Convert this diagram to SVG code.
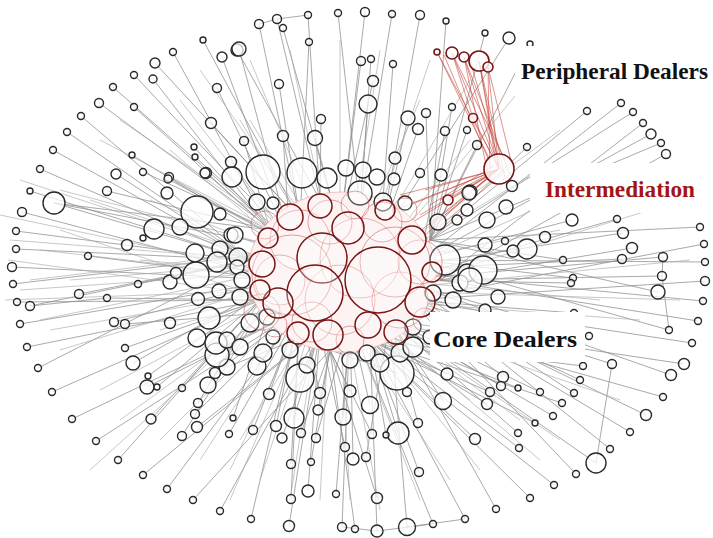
<svg xmlns="http://www.w3.org/2000/svg" width="713" height="538" viewBox="0 0 713 538">
<style>
.ln{fill:none;stroke:#8c8c8c;stroke-width:1;stroke-opacity:.75}
.ln2{fill:none;stroke:#a8a8a8;stroke-width:.9;stroke-opacity:.7}
.rl{fill:none;stroke:#c0392b;stroke-width:1;stroke-opacity:.55}
.n circle{fill:#fff;fill-opacity:.72;stroke:#2a2a2a;stroke-width:1.4}
.cd circle{fill:#fff;fill-opacity:.3;stroke:#7a1414;stroke-width:1.5}
.cl circle{fill:#fff;fill-opacity:.2;stroke:#c85050;stroke-width:1;stroke-opacity:.55}
.pr circle{fill:#fff;fill-opacity:.8;stroke:#7a1414;stroke-width:1.6}
.lbl{font-family:"Liberation Serif","Times New Roman",serif;font-weight:bold;font-size:23px}
</style>
<rect width="713" height="538" fill="#fff"/>
<g id="connectors">
<path class="ln" d="M203 40L300 220M222 57L290 240M237 50L320 200M173 52L270 230M155 63L300 220M134 75L300 250M153 79L270 230M217 88L290 240M113 87L320 270M99 103L300 250M134 107L270 230M81 116L250 260M211 123L300 220M67 132L280 280M53 150L250 260M194 147L270 230M195 157L300 250M132 155L320 270M231 162L290 240M40 169L250 260M116 174L280 280M143 172L270 230M169 177L300 250M206 173L270 230
M259 24L300 220M277 19L320 200M283 28L340 230M308 15L320 200M338 13L360 210M365 12L340 230M392 14L360 210M420 15L380 240M446 21L430 240M239 49L290 240M309 42L300 220M361 61L340 230M371 59L360 210M393 64L380 240M279 84L300 220M373 81L340 230M368 104L360 210M408 118L380 240M426 113L430 240M418 129L380 240M452 107L430 240M445 131L420 260M467 130L430 240M321 119L320 200M283 136L290 240M315 138L340 230M244 141L270 230M485 33L430 240M509 38L380 240M530 44L430 240M477 145L420 260M527 147L430 240
M587 111L430 240M621 103L420 260M633 112L430 240M643 123L440 280M651 134L420 260M661 143L430 240M666 154L440 280
M572 220L420 260M617 219L400 280M700 227L430 240M623 233L380 270M704 244L410 300M632 248L440 280M705 262L420 260M663 257L400 280M563 260L430 240M622 259L380 270M705 281L410 300M662 276L440 280M573 278L420 260M571 283L400 280M658 292L430 240M703 301L380 270M574 313L410 300M698 321L440 280M669 330L420 260M589 336L400 280M692 343L410 300
M612 364L410 300M684 364L390 320M671 375L400 280M583 366L370 340M580 380L410 300M663 397L390 320M574 393L400 280M562 403L370 340M646 415L410 300M540 392L390 320M518 388L350 320M503 377L410 300M501 386L390 320M490 392L370 340M487 404L350 320M553 416L390 320M535 423L370 340M630 432L410 300M518 433L390 320M610 449L400 280M519 448L350 320M475 439L370 340M596 463L390 320M576 474L410 300M554 485L370 340M530 498L350 320M496 509L390 320
M447 374L350 320M443 401L390 320M407 392L370 340M397 373L330 350M370 405L350 320M350 391L320 330M320 393L300 310M318 410L330 350M300 378L320 330M269 394L300 310M257 366L300 310M343 417L350 320M398 433L370 340M418 423L390 320M294 418L320 330M276 426L300 310M301 433L330 350M282 438L320 330M316 438L350 320M253 430L300 310M233 418L280 280M372 434L330 350M386 435L370 340M345 447L320 330M353 459L350 320M366 457L390 320M311 462L330 350M291 464L300 310M419 472L370 340M308 491L320 330M291 499L300 310M336 494L350 320M377 498L330 350M251 519L300 310M289 526L320 330M342 527L350 320M355 529L330 350M377 531L370 340M407 527L390 320M433 524L350 320M465 519L370 340
M38 368L250 260M133 363L280 280M52 392L260 300M147 387L300 310M148 376L280 280M157 387L260 300M72 419L300 310M182 388L260 300M208 385L280 280M215 373L300 310M227 367L320 330M198 403L260 300M195 414L300 310M197 427L320 330M182 436L280 280M151 419L260 300M96 441L300 310M118 460L260 300M143 475L320 330M167 489L300 310M193 500L330 350M220 511L320 330M229 434L300 310
M30 191L250 260M22 212L280 280M54 203L300 250M54 203L270 230M54 203L250 260M16 231L320 270M16 249L250 260M12 267L280 280M13 284L300 250M17 302L260 300M30 306L250 260M20 324L280 280M27 347L260 300M107 191L270 230M168 179L300 250M88 256L280 280M138 284L300 250M79 294L250 260M107 298L260 300M114 322L280 280M125 324L300 310M125 348L260 300
M259 24L277 19L308 15M663 257L662 276L669 330M596 463L612 364M433 524L377 531L342 527M407 527L465 519M30 306L107 298"/>
<path class="ln2" d="M0 215L260 270M20 180L280 265M40 250L300 280M60 230L270 300M5 300L290 290M70 280L310 260M90 200L300 270M100 140L330 260M180 100L320 280M250 60L330 250M340 40L340 270M430 60L360 270M520 90L380 260M600 180L400 270M650 210L390 290M690 260L380 290M640 320L370 300M620 400L360 310M540 460L350 300M450 480L340 310M380 510L340 290M320 500L330 300M260 480L320 300M200 460L310 290M120 420L300 290M60 350L290 280M20 290L310 270M150 200L320 270M240 120L330 270M420 100L350 260M560 130L370 270M680 300L360 290M560 440L340 290M230 500L320 290M90 470L300 280M40 320L280 270
M10 240L290 262M8 260L300 300M30 280L280 250M60 190L290 250M120 120L310 250M200 70L320 240M290 50L330 240M380 50L350 240M470 80L370 250M540 170L390 260M560 230L400 260M600 300L390 280M580 350L380 300M520 420L370 310M480 470L360 320M420 500L350 320M350 500L340 320M290 500L320 310M230 470L310 300M160 440L300 300M100 390L290 290M50 330L280 290M170 150L300 260M140 260L300 275M160 330L300 290M250 120L330 255M470 140L380 255M520 320L390 290M470 400L360 310M240 440L320 310"/>
<path class="rl" d="M437 52L499 169M437 52L490 160M452 53L499 169M452 53L505 160M452 53L473 118M464 57L499 169M464 57L488 175M464 57L510 175M479 61L499 169M479 61L495 156M479 61L506 182M488 67L499 169M488 67L512 165M488 67L490 180M473 118L499 169M444 55L492 168M470 60L502 172
M499 169L400 195M499 169L410 205M499 169L420 215M499 169L430 225M499 169L415 235M499 169L440 200M499 169L395 210M499 169L425 190M499 169L445 215M499 169L408 225M490 175L420 240M495 165L430 205M505 172L435 230M499 169L450 200"/>
</g>
<ellipse id="core-area" cx="342" cy="272" rx="94" ry="80" fill="#fdf1f1" stroke="#e6a0a0" stroke-width="1" stroke-opacity=".6"/>
<g id="nodes" class="n">
<circle cx="203" cy="40" r="3"/><circle cx="222" cy="57" r="5"/><circle cx="237" cy="50" r="6"/><circle cx="173" cy="52" r="3.5"/><circle cx="155" cy="63" r="5"/><circle cx="134" cy="75" r="3.5"/><circle cx="153" cy="79" r="4"/><circle cx="217" cy="88" r="4.5"/><circle cx="113" cy="87" r="3.5"/><circle cx="99" cy="103" r="4.5"/><circle cx="134" cy="107" r="3.5"/><circle cx="81" cy="116" r="3.5"/><circle cx="211" cy="123" r="5.5"/><circle cx="67" cy="132" r="3.5"/><circle cx="53" cy="150" r="3.5"/><circle cx="194" cy="147" r="3"/><circle cx="195" cy="157" r="3"/><circle cx="132" cy="155" r="3"/><circle cx="231" cy="162" r="5.5"/><circle cx="40" cy="169" r="3.5"/><circle cx="116" cy="174" r="5"/><circle cx="143" cy="172" r="3.5"/><circle cx="169" cy="177" r="4.5"/><circle cx="206" cy="173" r="5.5"/>
<circle cx="259" cy="24" r="4.5"/><circle cx="277" cy="19" r="4.5"/><circle cx="283" cy="28" r="3.5"/><circle cx="308" cy="15" r="3.5"/><circle cx="338" cy="13" r="3.5"/><circle cx="365" cy="12" r="4.5"/><circle cx="392" cy="14" r="3.5"/><circle cx="420" cy="15" r="4.5"/><circle cx="446" cy="21" r="3"/><circle cx="239" cy="49" r="7"/><circle cx="309" cy="42" r="3.5"/><circle cx="361" cy="61" r="4.5"/><circle cx="371" cy="59" r="3.5"/><circle cx="393" cy="64" r="3.5"/><circle cx="279" cy="84" r="4.5"/><circle cx="373" cy="81" r="5.5"/><circle cx="368" cy="104" r="9"/><circle cx="408" cy="118" r="7"/><circle cx="426" cy="113" r="4.5"/><circle cx="418" cy="129" r="5.5"/><circle cx="452" cy="107" r="3.5"/><circle cx="445" cy="131" r="4.5"/><circle cx="467" cy="130" r="3.5"/><circle cx="321" cy="119" r="4.5"/><circle cx="283" cy="136" r="5.5"/><circle cx="315" cy="138" r="7.5"/><circle cx="244" cy="141" r="4.5"/><circle cx="485" cy="33" r="3"/><circle cx="509" cy="38" r="6"/><circle cx="530" cy="44" r="3"/><circle cx="477" cy="145" r="4.5"/><circle cx="527" cy="147" r="3.5"/>
<circle cx="587" cy="111" r="3.5"/><circle cx="621" cy="103" r="3.5"/><circle cx="633" cy="112" r="3.5"/><circle cx="643" cy="123" r="3.5"/><circle cx="651" cy="134" r="5"/><circle cx="661" cy="143" r="3.5"/><circle cx="666" cy="154" r="4.5"/>
<circle cx="572" cy="220" r="6"/><circle cx="617" cy="219" r="3.5"/><circle cx="700" cy="227" r="3.5"/><circle cx="623" cy="233" r="5.5"/><circle cx="704" cy="244" r="3.5"/><circle cx="632" cy="248" r="5.5"/><circle cx="705" cy="262" r="3.5"/><circle cx="663" cy="257" r="4.5"/><circle cx="563" cy="260" r="3.5"/><circle cx="622" cy="259" r="4.5"/><circle cx="705" cy="281" r="4.5"/><circle cx="662" cy="276" r="4.5"/><circle cx="573" cy="278" r="3.5"/><circle cx="571" cy="283" r="3.5"/><circle cx="658" cy="292" r="7"/><circle cx="703" cy="301" r="3.5"/><circle cx="574" cy="313" r="3.5"/><circle cx="698" cy="321" r="3.5"/><circle cx="669" cy="330" r="3.5"/><circle cx="589" cy="336" r="3.5"/><circle cx="692" cy="343" r="3.5"/>
<circle cx="612" cy="364" r="4.5"/><circle cx="684" cy="364" r="5.5"/><circle cx="671" cy="375" r="5.5"/><circle cx="583" cy="366" r="3.5"/><circle cx="580" cy="380" r="3.5"/><circle cx="663" cy="397" r="3.5"/><circle cx="574" cy="393" r="3.5"/><circle cx="562" cy="403" r="3.5"/><circle cx="646" cy="415" r="5.5"/><circle cx="540" cy="392" r="3.5"/><circle cx="518" cy="388" r="3"/><circle cx="503" cy="377" r="5.5"/><circle cx="501" cy="386" r="4.5"/><circle cx="490" cy="392" r="4.5"/><circle cx="487" cy="404" r="5.5"/><circle cx="553" cy="416" r="3.5"/><circle cx="535" cy="423" r="3"/><circle cx="630" cy="432" r="3.5"/><circle cx="518" cy="433" r="3.5"/><circle cx="610" cy="449" r="3.5"/><circle cx="519" cy="448" r="3.5"/><circle cx="475" cy="439" r="5.5"/><circle cx="596" cy="463" r="10"/><circle cx="576" cy="474" r="3.5"/><circle cx="554" cy="485" r="3.5"/><circle cx="530" cy="498" r="3.5"/><circle cx="496" cy="509" r="3.5"/>
<circle cx="447" cy="374" r="6"/><circle cx="443" cy="401" r="8.5"/><circle cx="407" cy="392" r="4.5"/><circle cx="397" cy="373" r="17"/><circle cx="370" cy="405" r="8.5"/><circle cx="350" cy="391" r="6"/><circle cx="320" cy="393" r="5.5"/><circle cx="318" cy="410" r="5"/><circle cx="300" cy="378" r="14"/><circle cx="269" cy="394" r="5.5"/><circle cx="257" cy="366" r="9"/><circle cx="343" cy="417" r="8"/><circle cx="398" cy="433" r="11"/><circle cx="418" cy="423" r="4.5"/><circle cx="294" cy="418" r="10"/><circle cx="276" cy="426" r="5.5"/><circle cx="301" cy="433" r="4.5"/><circle cx="282" cy="438" r="5"/><circle cx="316" cy="438" r="4.5"/><circle cx="253" cy="430" r="4.5"/><circle cx="233" cy="418" r="3"/><circle cx="372" cy="434" r="4.5"/><circle cx="386" cy="435" r="3"/><circle cx="345" cy="447" r="4.5"/><circle cx="353" cy="459" r="6"/><circle cx="366" cy="457" r="4.5"/><circle cx="311" cy="462" r="3.5"/><circle cx="291" cy="464" r="4.5"/><circle cx="419" cy="472" r="4.5"/><circle cx="308" cy="491" r="6"/><circle cx="291" cy="499" r="4.5"/><circle cx="336" cy="494" r="3.5"/><circle cx="377" cy="498" r="5.5"/><circle cx="251" cy="519" r="3.5"/><circle cx="289" cy="526" r="5.5"/><circle cx="342" cy="527" r="4.5"/><circle cx="355" cy="529" r="3.5"/><circle cx="377" cy="531" r="6"/><circle cx="407" cy="527" r="8.5"/><circle cx="433" cy="524" r="3.5"/><circle cx="465" cy="519" r="3.5"/>
<circle cx="38" cy="368" r="3.5"/><circle cx="133" cy="363" r="7"/><circle cx="52" cy="392" r="3.5"/><circle cx="147" cy="387" r="7"/><circle cx="148" cy="376" r="3"/><circle cx="157" cy="387" r="3"/><circle cx="72" cy="419" r="3.5"/><circle cx="182" cy="388" r="3.5"/><circle cx="208" cy="385" r="8"/><circle cx="215" cy="373" r="5.5"/><circle cx="227" cy="367" r="8"/><circle cx="198" cy="403" r="4.5"/><circle cx="195" cy="414" r="4.5"/><circle cx="197" cy="427" r="5.5"/><circle cx="182" cy="436" r="4.5"/><circle cx="151" cy="419" r="5"/><circle cx="96" cy="441" r="3.5"/><circle cx="118" cy="460" r="3.5"/><circle cx="143" cy="475" r="3.5"/><circle cx="167" cy="489" r="3.5"/><circle cx="193" cy="500" r="3.5"/><circle cx="220" cy="511" r="3.5"/><circle cx="229" cy="434" r="3.5"/><circle cx="217" cy="355" r="12"/>
<circle cx="30" cy="191" r="3"/><circle cx="22" cy="212" r="4.5"/><circle cx="54" cy="203" r="11"/><circle cx="16" cy="231" r="3.5"/><circle cx="16" cy="249" r="3.5"/><circle cx="12" cy="267" r="4.5"/><circle cx="13" cy="284" r="3.5"/><circle cx="17" cy="302" r="3.5"/><circle cx="30" cy="306" r="4.5"/><circle cx="20" cy="324" r="3.5"/><circle cx="27" cy="347" r="3.5"/><circle cx="107" cy="191" r="4.5"/><circle cx="168" cy="179" r="4"/><circle cx="167" cy="193" r="6"/><circle cx="143" cy="238" r="3"/><circle cx="127" cy="245" r="5.5"/><circle cx="88" cy="256" r="3.5"/><circle cx="138" cy="284" r="3.5"/><circle cx="79" cy="294" r="4.5"/><circle cx="107" cy="298" r="3.5"/><circle cx="114" cy="322" r="4.5"/><circle cx="125" cy="324" r="4.5"/><circle cx="125" cy="348" r="3.5"/>
<circle cx="197" cy="212" r="16"/><circle cx="220" cy="214" r="6"/><circle cx="154" cy="229" r="10"/><circle cx="180" cy="227" r="8"/><circle cx="170" cy="282" r="7"/><circle cx="176" cy="273" r="5.5"/><circle cx="196" cy="275" r="13"/><circle cx="195" cy="253" r="9"/><circle cx="220" cy="249" r="8"/><circle cx="231" cy="235" r="7"/><circle cx="217" cy="262" r="10"/><circle cx="198" cy="299" r="6.5"/><circle cx="219" cy="291" r="7"/><circle cx="209" cy="318" r="11"/><circle cx="170" cy="323" r="5.5"/><circle cx="197" cy="338" r="9"/><circle cx="216" cy="343" r="11"/>
<circle cx="263" cy="172" r="17"/><circle cx="232" cy="177" r="10"/><circle cx="302" cy="173" r="15"/><circle cx="327" cy="178" r="10"/><circle cx="205" cy="173" r="5"/><circle cx="346" cy="168" r="8"/><circle cx="363" cy="170" r="8"/><circle cx="395" cy="158" r="6"/><circle cx="377" cy="177" r="8"/><circle cx="394" cy="179" r="6"/><circle cx="420" cy="173" r="4.5"/><circle cx="441" cy="175" r="6"/><circle cx="257" cy="202" r="8"/><circle cx="273" cy="203" r="6"/><circle cx="360" cy="193" r="12"/><circle cx="383" cy="202" r="9"/><circle cx="405" cy="203" r="7"/><circle cx="470" cy="192" r="7"/><circle cx="467" cy="210" r="6"/><circle cx="235" cy="235" r="8"/><circle cx="438" cy="222" r="8"/><circle cx="457" cy="220" r="5"/><circle cx="238" cy="257" r="9"/><circle cx="445" cy="260" r="15"/><circle cx="467" cy="273" r="9"/><circle cx="237" cy="267" r="7"/><circle cx="242" cy="280" r="8"/><circle cx="240" cy="297" r="8"/><circle cx="460" cy="283" r="8"/><circle cx="453" cy="300" r="8"/><circle cx="433" cy="293" r="8"/><circle cx="250" cy="323" r="9"/><circle cx="267" cy="317" r="8"/><circle cx="227" cy="340" r="8"/><circle cx="240" cy="347" r="8"/><circle cx="263" cy="353" r="9"/><circle cx="273" cy="337" r="7"/><circle cx="290" cy="350" r="8"/><circle cx="307" cy="365" r="8"/><circle cx="350" cy="360" r="8"/><circle cx="367" cy="353" r="8"/><circle cx="380" cy="363" r="9"/><circle cx="400" cy="353" r="9"/><circle cx="413" cy="347" r="10"/><circle cx="413" cy="327" r="8"/><circle cx="430" cy="337" r="7"/>
<circle cx="512" cy="186" r="5.5"/><circle cx="506" cy="207" r="7"/><circle cx="487" cy="220" r="8"/><circle cx="545" cy="237" r="5.5"/><circle cx="505" cy="241" r="3.5"/><circle cx="527" cy="249" r="10"/><circle cx="513" cy="251" r="6"/><circle cx="485" cy="245" r="7"/><circle cx="483" cy="270" r="14"/><circle cx="498" cy="297" r="7"/><circle cx="485" cy="310" r="6"/><circle cx="470" cy="280" r="12"/><circle cx="469" cy="193" r="7"/>
</g>
<g id="core-dealers">
<g class="cl">
<circle cx="300" cy="240" r="30"/><circle cx="360" cy="258" r="40"/><circle cx="340" cy="300" r="35"/><circle cx="280" cy="280" r="25"/><circle cx="400" cy="300" r="28"/><circle cx="330" cy="222" r="22"/><circle cx="262" cy="312" r="18"/><circle cx="382" cy="222" r="20"/><circle cx="420" cy="262" r="22"/><circle cx="312" cy="322" r="20"/><circle cx="350" cy="340" r="14"/><circle cx="405" cy="210" r="12"/><circle cx="265" cy="225" r="14"/><circle cx="355" cy="205" r="14"/><circle cx="292" cy="275" r="40"/><circle cx="395" cy="262" r="35"/><circle cx="425" cy="320" r="12"/><circle cx="275" cy="325" r="12"/>
</g>
<g class="cd">
<circle cx="322" cy="258" r="25"/><circle cx="378" cy="280" r="33"/><circle cx="315" cy="293" r="28"/><circle cx="290" cy="217" r="13"/><circle cx="320" cy="206" r="12"/><circle cx="328" cy="335" r="15"/><circle cx="278" cy="303" r="15"/><circle cx="262" cy="264" r="13"/><circle cx="348" cy="228" r="16"/><circle cx="412" cy="240" r="14"/><circle cx="420" cy="302" r="15"/><circle cx="368" cy="325" r="13"/><circle cx="298" cy="333" r="11"/><circle cx="396" cy="332" r="12"/><circle cx="268" cy="238" r="10"/><circle cx="432" cy="272" r="10"/><circle cx="385" cy="210" r="10"/><circle cx="260" cy="290" r="10"/>
</g>
</g>
<g id="peripheral-dealers" class="pr">
<circle cx="437" cy="52" r="3"/><circle cx="452" cy="53" r="6"/><circle cx="464" cy="57" r="5"/><circle cx="479" cy="61" r="10"/><circle cx="488" cy="67" r="5"/><circle cx="473" cy="118" r="4.5"/><circle cx="448" cy="200" r="5"/>
</g>
<g id="intermediation-node" class="pr">
<circle cx="499" cy="169" r="15"/>
</g>
<g id="labels">
<rect x="515" y="46" width="198" height="52" fill="#fff"/>
<text class="lbl" x="521" y="79" fill="#111" textLength="187" lengthAdjust="spacingAndGlyphs">Peripheral Dealers</text>
<rect x="530" y="163" width="183" height="50" fill="#fff"/>
<text class="lbl" x="545" y="197" fill="#a31515" textLength="150" lengthAdjust="spacingAndGlyphs">Intermediation</text>
<rect x="430" y="312" width="155" height="50" fill="#fff"/>
<text class="lbl" x="433" y="347" fill="#111" textLength="144" lengthAdjust="spacingAndGlyphs">Core Dealers</text>
</g>
</svg>
